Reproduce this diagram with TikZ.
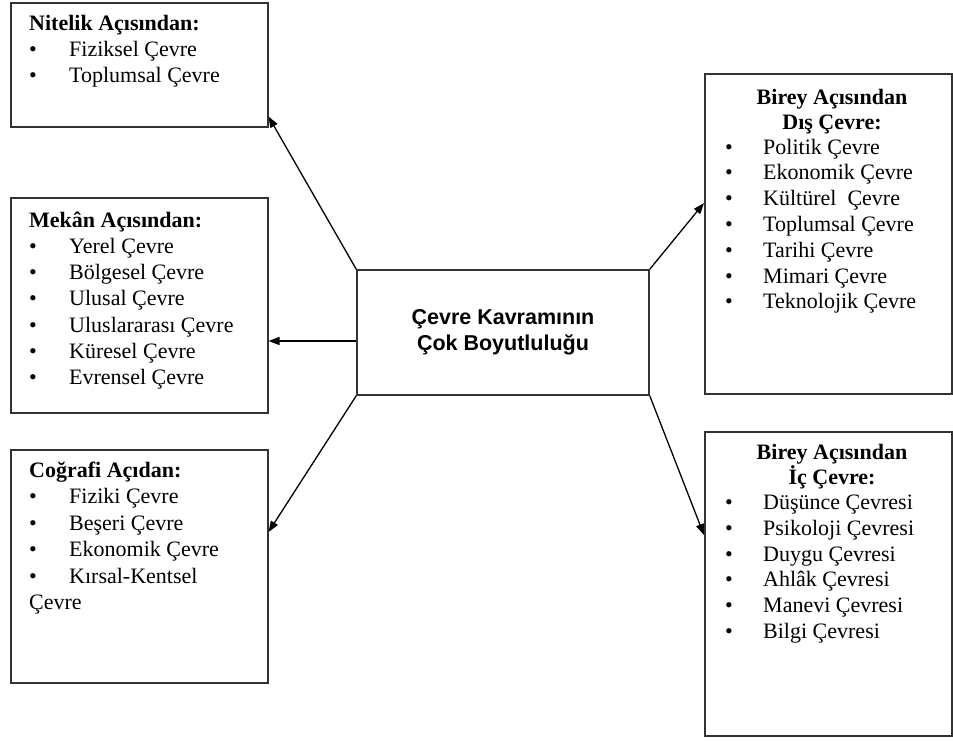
\documentclass[tikz,border=0pt]{standalone}
\usepackage{fontspec}
\setmainfont{Liberation Serif}
\newfontfamily\headsans{Liberation Sans}
\usetikzlibrary{arrows.meta,calc}

\tikzset{
  frame/.style={draw=black!80, line width=1.5pt, rectangle, inner sep=0pt, anchor=north west},
  % multi-line text nodes are placed by the baseline of their last line
  listtext/.style={inner sep=0pt, anchor=base west, align=left, font=\fontsize{22}{#1}\selectfont},
  listtext/.default=26.3,
  headtext/.style={inner sep=0pt, anchor=base, align=center, font=\bfseries\fontsize{22}{25.5}\selectfont},
  link/.style={line width=1.3pt, -{Triangle[length=11pt,width=8pt]}},
}
% bullet item: bullet, then text at a fixed indent
\newcommand\itm[2][40pt]{\makebox[#1][l]{\textbullet}#2}

\begin{document}
\begin{tikzpicture}[x=1pt,y=-1pt]
\fill[white] (0,0) rectangle (953,740);
\useasboundingbox (0,0) rectangle (953,740);

% central concept
\node[frame, anchor=center, minimum width=292pt, minimum height=125pt,
      font=\headsans\bfseries\fontsize{21.5}{25.5}\selectfont, align=center]
      (ctr) at (503,332.5) {Çevre Kavramının\\Çok Boyutluluğu};

% frames
\node[frame, minimum width=257pt, minimum height=124pt] (nit) at (10,2) {};
\node[frame, minimum width=257pt, minimum height=215pt] (mek) at (10,197) {};
\node[frame, minimum width=257pt, minimum height=233pt] (cog) at (10,449) {};
\node[frame, minimum width=247pt, minimum height=320pt] (dis) at (704,73) {};
\node[frame, minimum width=247pt, minimum height=304pt] (ic)  at (704,431) {};

% left texts
\node[listtext] (nitT) at (29,82.6) {\textbf{Nitelik Açısından:}\\
  \itm{Fiziksel Çevre}\\ \itm{Toplumsal Çevre}};
\node[listtext] (mekT) at (29,384.8) {\textbf{Mekân Açısından:}\\
  \itm{Yerel Çevre}\\ \itm{Bölgesel Çevre}\\ \itm{Ulusal Çevre}\\
  \itm{Uluslararası Çevre}\\ \itm{Küresel Çevre}\\ \itm{Evrensel Çevre}};
\node[listtext=26.5] (cogT) at (29,609.5) {\textbf{Coğrafi Açıdan:}\\
  \itm{Fiziki Çevre}\\ \itm{Beşeri Çevre}\\ \itm{Ekonomik Çevre}\\
  \itm{Kırsal-Kentsel}\\ Çevre};

% right texts
\node[headtext] (disH) at (832,129.5) {Birey Açısından\\Dış Çevre:};
\node[listtext=25.8] (disT) at (725,308.8) {\itm[38pt]{Politik Çevre}\\
  \itm[38pt]{Ekonomik Çevre}\\ \itm[38pt]{Kültürel\ \ Çevre}\\
  \itm[38pt]{Toplumsal Çevre}\\ \itm[38pt]{Tarihi Çevre}\\
  \itm[38pt]{Mimari Çevre}\\ \itm[38pt]{Teknolojik Çevre}};
\node[headtext] (icH) at (832,484.5) {Birey Açısından\\İç Çevre:};
\node[listtext=25.8] (icT) at (725,638.5) {\itm[38pt]{Düşünce Çevresi}\\
  \itm[38pt]{Psikoloji Çevresi}\\ \itm[38pt]{Duygu Çevresi}\\
  \itm[38pt]{Ahlâk Çevresi}\\ \itm[38pt]{Manevi Çevresi}\\
  \itm[38pt]{Bilgi Çevresi}};

% connectors
\draw[link] (ctr.north west) -- ($(nit.south east)+(0,-11)$);
\coordinate (mfrom) at ($(ctr.west)+(0,8.5)$);
\draw[link] (mfrom) -- (mfrom -| mek.east);
\draw[link] (ctr.south west) -- ($(cog.north east)+(0,83)$);
\draw[link] (ctr.north east) -- ($(dis.north west)+(0,130)$);
\draw[link] (ctr.south east) -- ($(ic.north west)+(0,104)$);
\end{tikzpicture}
\end{document}
